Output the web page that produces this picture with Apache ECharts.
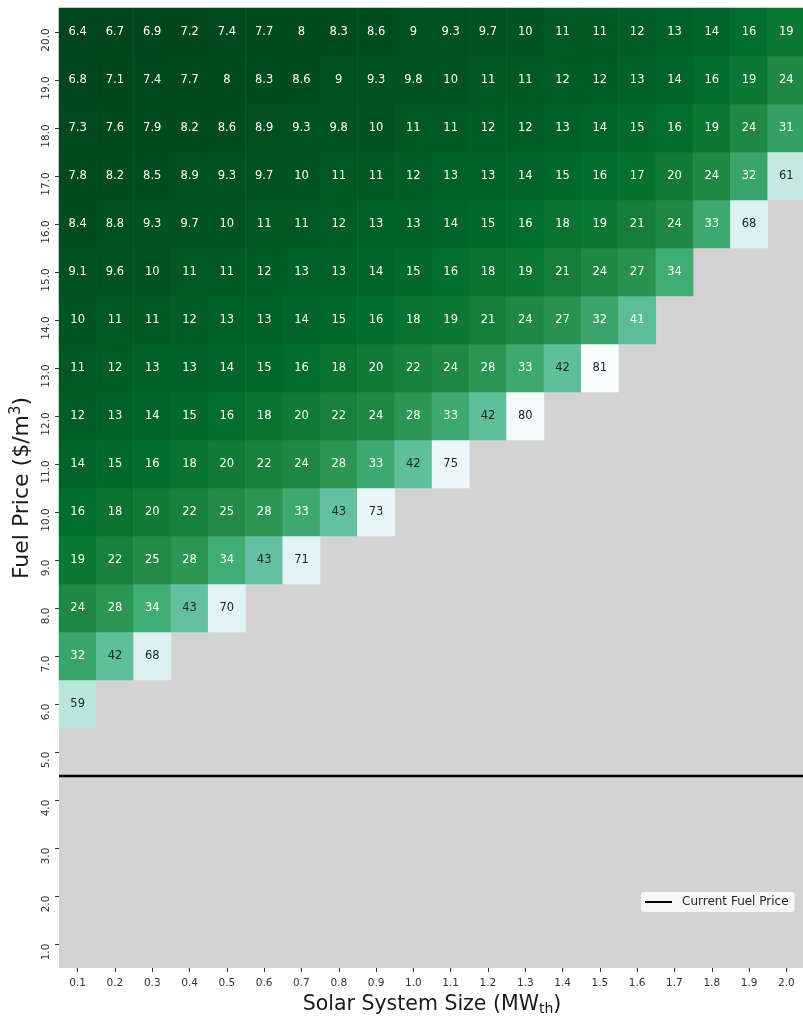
<!DOCTYPE html>
<html>
<head>
<meta charset="utf-8">
<script src="https://cdn.jsdelivr.net/npm/echarts@6/dist/echarts.min.js"></script>
<style>
  html, body { margin: 0; padding: 0; background: #ffffff; }
  #chart { width: 803px; height: 1020px; }
</style>
</head>
<body>
<div id="chart"></div>
<script>
// Solar system sizes (MWth) along the x axis
const systemSizes = ['0.1','0.2','0.3','0.4','0.5','0.6','0.7','0.8','0.9','1.0',
                     '1.1','1.2','1.3','1.4','1.5','1.6','1.7','1.8','1.9','2.0'];
// Fuel prices ($/m3) along the y axis, bottom to top
const fuelPrices = ['1.0','2.0','3.0','4.0','5.0','6.0','7.0','8.0','9.0','10.0',
                    '11.0','12.0','13.0','14.0','15.0','16.0','17.0','18.0','19.0','20.0'];

// Values per fuel price row, starting at 0.1 MWth; missing sizes have no value
const row20 = [6.4, 6.7, 6.9, 7.2, 7.4, 7.7, 8, 8.3, 8.6, 9, 9.3, 9.7, 10, 11, 11, 12, 13, 14, 16, 19];
const row19 = [6.8, 7.1, 7.4, 7.7, 8, 8.3, 8.6, 9, 9.3, 9.8, 10, 11, 11, 12, 12, 13, 14, 16, 19, 24];
const row18 = [7.3, 7.6, 7.9, 8.2, 8.6, 8.9, 9.3, 9.8, 10, 11, 11, 12, 12, 13, 14, 15, 16, 19, 24, 31];
const row17 = [7.8, 8.2, 8.5, 8.9, 9.3, 9.7, 10, 11, 11, 12, 13, 13, 14, 15, 16, 17, 20, 24, 32, 61];
const row16 = [8.4, 8.8, 9.3, 9.7, 10, 11, 11, 12, 13, 13, 14, 15, 16, 18, 19, 21, 24, 33, 68];
const row15 = [9.1, 9.6, 10, 11, 11, 12, 13, 13, 14, 15, 16, 18, 19, 21, 24, 27, 34];
const row14 = [10, 11, 11, 12, 13, 13, 14, 15, 16, 18, 19, 21, 24, 27, 32, 41];
const row13 = [11, 12, 13, 13, 14, 15, 16, 18, 20, 22, 24, 28, 33, 42, 81];
const row12 = [12, 13, 14, 15, 16, 18, 20, 22, 24, 28, 33, 42, 80];
const row11 = [14, 15, 16, 18, 20, 22, 24, 28, 33, 42, 75];
const row10 = [16, 18, 20, 22, 25, 28, 33, 43, 73];
const row9  = [19, 22, 25, 28, 34, 43, 71];
const row8  = [24, 28, 34, 43, 70];
const row7  = [32, 42, 68];
const row6  = [59];
const row5  = [];
const row4  = [];
const row3  = [];
const row2  = [];
const row1  = [];

const rowsBottomUp = [row1, row2, row3, row4, row5, row6, row7, row8, row9, row10,
                      row11, row12, row13, row14, row15, row16, row17, row18, row19, row20];

// Current fuel price marker
const currentFuelPrice = 4.5;

// Reversed BuGn colour ramp
const palette = ['#00441b', '#006d2c', '#238b45', '#41ae76', '#66c2a4',
                 '#99d8c9', '#ccece6', '#e5f5f9', '#f7fcfd'];

const allValues = rowsBottomUp.flat();
const vMin = Math.min(...allValues);
const vMax = Math.max(...allValues);

function hexToRgb(h) {
  return [parseInt(h.slice(1, 3), 16), parseInt(h.slice(3, 5), 16), parseInt(h.slice(5, 7), 16)];
}
function colorAt(v) {
  const t = Math.min(1, Math.max(0, (v - vMin) / (vMax - vMin))) * (palette.length - 1);
  const i = Math.min(palette.length - 2, Math.floor(t));
  const f = t - i;
  const a = hexToRgb(palette[i]), b = hexToRgb(palette[i + 1]);
  return a.map((c, k) => c + (b[k] - c) * f);
}
function luminance(rgb) {
  const lin = rgb.map(c => {
    c /= 255;
    return c <= 0.03928 ? c / 12.92 : Math.pow((c + 0.055) / 1.055, 2.4);
  });
  return 0.2126 * lin[0] + 0.7152 * lin[1] + 0.0722 * lin[2];
}

// Annotation text switches to dark on light cells
const heatData = [];
rowsBottomUp.forEach((row, yi) => {
  row.forEach((v, xi) => {
    const dark = luminance(colorAt(v)) > 0.408;
    heatData.push({
      value: [xi, yi, v],
      label: { color: dark ? '#262626' : '#ffffff' }
    });
  });
});

const FONT = 'DejaVu Sans';
const chart = echarts.init(document.getElementById('chart'), null, { renderer: 'canvas' });

chart.setOption({
  backgroundColor: '#ffffff',
  animation: false,
  textStyle: { fontFamily: FONT },
  grid: {
    left: 59, top: 8, width: 746, height: 960,
    outerBoundsMode: 'none',
    containLabel: false,
    show: true, backgroundColor: '#d3d3d3', borderWidth: 0
  },
  xAxis: [{
    type: 'category',
    data: systemSizes,
    position: 'bottom',
    axisLine: { show: false },
    axisTick: { show: true, alignWithLabel: true, length: 4, lineStyle: { color: '#333333', width: 1 } },
    axisLabel: { fontFamily: FONT, fontSize: 10.5, color: '#333333', margin: 10, interval: 0 },
    splitLine: { show: false },
    name: '{t|Solar System Size (MW}{s|th}{t|)}',
    nameLocation: 'middle',
    nameGap: 25,
    nameTextStyle: {
      rich: {
        t: { fontFamily: FONT, fontSize: 20.5, color: '#1a1a1a' },
        s: { fontFamily: FONT, fontSize: 14, color: '#1a1a1a', padding: [9, 0, 0, 0] }
      }
    }
  }, {
    type: 'value', min: 0, max: 1, show: false
  }],
  yAxis: [{
    type: 'category',
    data: fuelPrices,
    axisLine: { show: false },
    axisTick: { show: true, alignWithLabel: true, length: 4, lineStyle: { color: '#333333', width: 1 } },
    axisLabel: { fontFamily: FONT, fontSize: 10.5, color: '#333333', rotate: 90, margin: 7, interval: 0,
                 padding: [0, 16, 0, 0] },
    splitLine: { show: false },
    name: '{t|Fuel Price ($/m}{p|3}{t|)}',
    nameLocation: 'middle',
    nameRotate: 90,
    nameGap: 24,
    nameTextStyle: {
      rich: {
        t: { fontFamily: FONT, fontSize: 22, color: '#1a1a1a' },
        p: { fontFamily: FONT, fontSize: 15, color: '#1a1a1a', padding: [0, 0, 11, 0] }
      }
    }
  }, {
    type: 'value', min: 0.5, max: 20.5, show: false
  }],
  visualMap: {
    show: false,
    type: 'continuous',
    min: vMin,
    max: vMax,
    dimension: 2,
    seriesIndex: 0,
    inRange: { color: palette }
  },
  legend: {
    data: ['Current Fuel Price'],
    left: 641,
    top: 892,
    orient: 'vertical',
    icon: 'rect',
    itemWidth: 27,
    itemHeight: 2,
    padding: [4, 6, 4, 4],
    backgroundColor: 'rgba(255,255,255,0.8)',
    borderWidth: 0,
    borderRadius: 3,
    textStyle: { fontFamily: FONT, fontSize: 12, color: '#262626', padding: [0, 0, 0, 5] },
    selectedMode: false
  },
  series: [{
    type: 'heatmap',
    xAxisIndex: 0,
    yAxisIndex: 0,
    data: heatData,
    label: {
      show: true,
      fontFamily: FONT,
      fontSize: 11.5,
      formatter: p => String(p.value[2])
    },
    itemStyle: { borderWidth: 0 },
    emphasis: { disabled: true }
  }, {
    type: 'line',
    name: 'Current Fuel Price',
    xAxisIndex: 1,
    yAxisIndex: 1,
    data: [[0, currentFuelPrice], [1, currentFuelPrice]],
    symbol: 'none',
    lineStyle: { color: '#000000', width: 2.5 },
    itemStyle: { color: '#000000' },
    z: 5,
    silent: true
  }]
});
</script>
</body>
</html>
